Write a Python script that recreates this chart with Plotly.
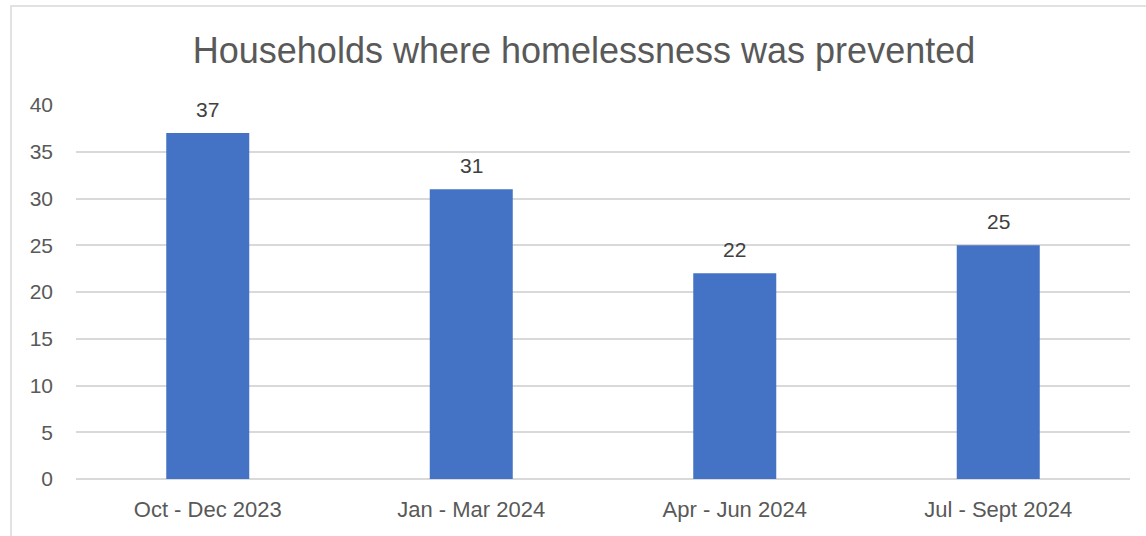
import plotly.graph_objects as go

# Quarterly counts of households where homelessness was prevented
quarters = ["Oct - Dec 2023", "Jan - Mar 2024", "Apr - Jun 2024", "Jul - Sept 2024"]
households = [37, 31, 22, 25]
y_ticks = [0, 5, 10, 15, 20, 25, 30, 35, 40]

W, H = 1146, 536
L, R, T, B = 76, 16, 105, 57
pw, ph = W - L - R, H - T - B

def px_to_paper_x(px):
    return (px - L) / pw

def px_to_paper_y(py):
    return (H - B - py) / ph

FONT = "Liberation Sans, Arial, sans-serif"
BAR = "#4472C4"
GRID = "#D9D9D9"

fig = go.Figure(
    go.Bar(
        x=quarters,
        y=households,
        marker=dict(color=BAR, line=dict(width=0)),
        width=0.315,
        hoverinfo="x+y",
    )
)

# value labels above each bar
for q, v in zip(quarters, households):
    fig.add_annotation(
        x=q, y=v, text=str(v), showarrow=False,
        yanchor="bottom", yshift=10,
        font=dict(family=FONT, size=21, color="#404040"),
    )

# chart outline
fig.add_shape(
    type="rect", xref="paper", yref="paper",
    x0=px_to_paper_x(11), x1=px_to_paper_x(1157),
    y0=px_to_paper_y(545), y1=px_to_paper_y(6),
    line=dict(color=GRID, width=1.5), fillcolor="rgba(0,0,0,0)",
    layer="below",
)

fig.update_layout(
    width=W, height=H,
    margin=dict(l=L, r=R, t=T, b=B),
    paper_bgcolor="white", plot_bgcolor="white",
    showlegend=False,
    title=dict(
        text="Households where homelessness was prevented",
        xref="paper", x=px_to_paper_x(584), xanchor="center",
        yref="container", y=1 - 50 / H, yanchor="middle",
        font=dict(family=FONT, size=36, color="#595959"),
    ),
    xaxis=dict(
        showgrid=False, showline=False, zeroline=False, ticks="",
        ticklabelstandoff=15,
        tickfont=dict(family=FONT, size=22, color="#595959"),
    ),
    yaxis=dict(
        range=[0, 40], tickvals=y_ticks, ticktext=[str(t) for t in y_ticks],
        showgrid=True, gridcolor=GRID, gridwidth=1.5,
        zeroline=True, zerolinecolor=GRID, zerolinewidth=1.5,
        showline=False, ticks="",
        ticklabelstandoff=22,
        tickfont=dict(family=FONT, size=21, color="#595959"),
    ),
)

fig.write_html("out.html")
